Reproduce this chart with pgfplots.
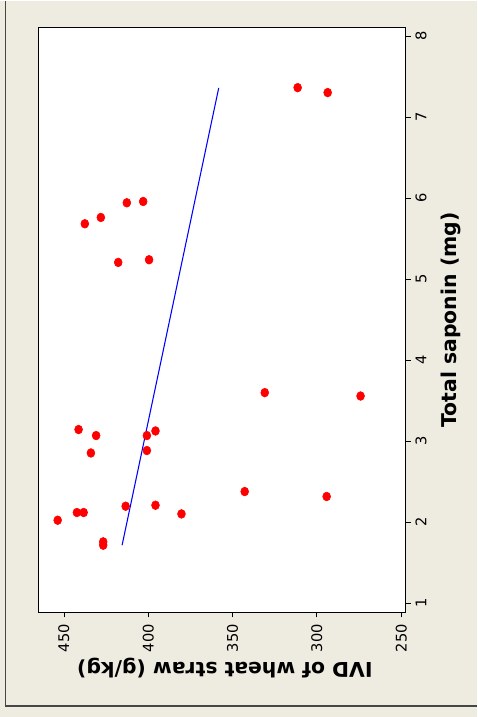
\documentclass[border=0pt]{standalone}
\usepackage{fontspec}
\setmainfont{DejaVu Sans}
\usepackage{pgfplots}
\pgfplotsset{compat=1.18}
\definecolor{bg}{RGB}{238,235,225}
\definecolor{frm}{RGB}{70,70,70}
\begin{document}
\begin{tikzpicture}
\fill[bg] (0,0) rectangle (357.75pt,537.75pt);
\draw[frm, line width=1.1pt] (4pt,537.75pt) -- (4pt,8.25pt) -- (357.75pt,8.25pt);
\begin{axis}[
  at={(29.25pt,78.75pt)}, anchor=south west,
  scale only axis, width=275.25pt, height=438.75pt,
  xmin=247.4, xmax=464.8, x dir=reverse,
  ymin=0.889, ymax=8.102,
  axis background/.style={fill=white},
  axis line style={black, line width=0.8pt},
  tick align=outside,
  xtick pos=left, ytick pos=right,
  xtick={250,300,350,400,450}, ytick={1,2,3,4,5,6,7,8},
  major tick length=4pt,
  tick style={black, line width=0.6pt},
  /pgf/number format/assume math mode=true,
  ticklabel style={font=\fontsize{11}{13}\selectfont},
  xticklabel style={rotate=90, anchor=east, xshift=-1.5pt},
  yticklabel pos=right,
  yticklabel style={rotate=90, anchor=north},
  xlabel={IVD of wheat straw (g/kg)},
  ylabel={Total saponin (mg)},
  every axis x label/.style={at={(axis description cs:0.507,-0.096)}, rotate=180, anchor=center, font=\bfseries\fontsize{15.3}{18}\selectfont},
  every axis y label/.style={at={(axis description cs:1.1226,0.5)}, rotate=90, anchor=center, font=\bfseries\fontsize{15.3}{18}\selectfont},
]
\addplot[only marks, mark=*, color=red, mark size=3.3pt, mark options={xscale=0.9}] coordinates {
(330.9,3.598) (274.1,3.556) (441.3,3.142) (430.9,3.068) (434.0,2.853)
(400.8,3.068) (395.7,3.125) (400.8,2.883) (342.8,2.377) (294.2,2.316)
(453.7,2.023) (442.3,2.118) (438.3,2.118) (413.4,2.196) (395.7,2.208)
(380.3,2.101) (426.7,1.756) (426.7,1.715) (437.6,5.682) (428.1,5.760)
(412.7,5.941) (403.0,5.957) (417.8,5.205) (399.5,5.238) (311.4,7.362)
(293.6,7.301)
};
\addplot[blue, line width=0.8pt] coordinates {(415.5,1.715) (358.2,7.359)};
\end{axis}
\end{tikzpicture}
\end{document}
